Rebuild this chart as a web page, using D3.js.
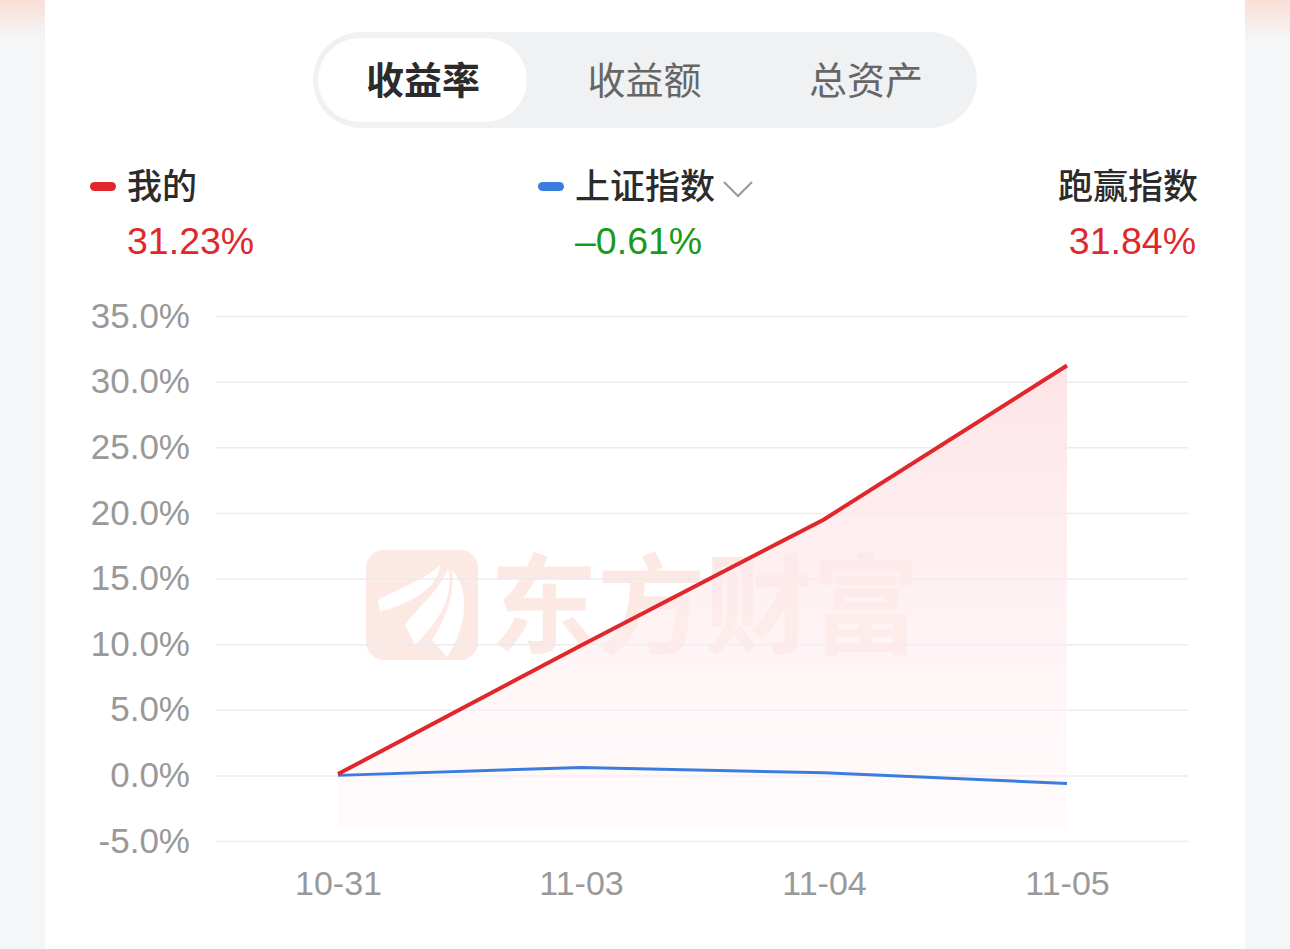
<!DOCTYPE html>
<html>
<head>
<meta charset="utf-8">
<script src="https://cdn.jsdelivr.net/npm/d3@7"></script>
<style>
  html, body { margin: 0; padding: 0; background: #f5f6f8; }
  svg { display: block; overflow: visible; }
</style>
</head>
<body>
<div class="main"></div>
<script>
  //Data
  const dates = ['10-31', '11-03', '11-04', '11-05'];
  const mine = [0.1, 9.9, 19.5, 31.23];
  const index = [0.0, 0.6, 0.2, -0.61];
  const yTicks = [-5, 0, 5, 10, 15, 20, 25, 30, 35];
  const tabs = ['收益率', '收益额', '总资产'];
  const legendNames = ['我的', '上证指数', '跑赢指数'];
  const legendValues = ['31.23%', '–0.61%', '31.84%'];

  //Variables
  const width = 1290,
        height = 949,
        marginLeft = 216,
        lineColors = ['#e0282c', '#3b7ddd', null],
        valueColors = ['#e0282c', '#1a9a1a', '#e0282c'],
        numFont = '"Liberation Sans", "Noto Sans CJK SC", sans-serif',
        cjkFont = '"Noto Sans CJK SC", "Liberation Sans", sans-serif';

  //Create Canvas
  const svg = d3.select('.main')
                .append('svg')
                .attr('width', width)
                .attr('height', height);

  const defs = svg.append('defs');

  const peach = defs.append('linearGradient')
                    .attr('id', 'peach')
                    .attr('x1', 0).attr('y1', 0).attr('x2', 0).attr('y2', 1);
  peach.append('stop').attr('offset', '0%').attr('stop-color', '#f9e0d6');
  peach.append('stop').attr('offset', '100%').attr('stop-color', '#f5f6f8');

  const fillGrad = defs.append('linearGradient')
                       .attr('id', 'fillGrad')
                       .attr('x1', 0).attr('y1', 0).attr('x2', 0).attr('y2', 1);
  fillGrad.append('stop').attr('offset', '0%').attr('stop-color', '#fde1e4').attr('stop-opacity', 0.9);
  fillGrad.append('stop').attr('offset', '100%').attr('stop-color', '#fff5f7').attr('stop-opacity', 0.45);

  //Background
  svg.append('rect').attr('width', width).attr('height', 40).attr('fill', 'url(#peach)');
  svg.append('rect').attr('x', 45).attr('width', 1200).attr('height', height).attr('fill', '#ffffff');

  //Tabs
  svg.append('rect')
     .attr('x', 313).attr('y', 32).attr('width', 664).attr('height', 96)
     .attr('rx', 48).attr('fill', '#f0f1f3');
  svg.append('rect')
     .attr('x', 318).attr('y', 38).attr('width', 209).attr('height', 84)
     .attr('rx', 42).attr('fill', '#ffffff');

  const tabX = d3.scalePoint().domain(tabs).range([423, 866]);
  svg.selectAll('.tab')
     .data(tabs)
     .enter()
     .append('text')
     .attr('class', 'tab')
     .attr('x', d => tabX(d))
     .attr('y', 94)
     .attr('text-anchor', 'middle')
     .style('font-family', cjkFont)
     .style('font-size', '38px')
     .style('font-weight', (d, i) => i === 0 ? 700 : 400)
     .attr('fill', (d, i) => i === 0 ? '#2b2b2b' : '#666666')
     .text(d => d);

  //Legend
  const legendX = [127, 575, 1198];
  legendNames.forEach(function(name, i) {
    const anchor = i === 2 ? 'end' : 'start';
    if (lineColors[i]) {
      svg.append('rect')
         .attr('x', legendX[i] - 37).attr('y', 182)
         .attr('width', 26).attr('height', 9).attr('rx', 4.5)
         .attr('fill', lineColors[i]);
    }
    svg.append('text')
       .attr('x', legendX[i]).attr('y', 199)
       .attr('text-anchor', anchor)
       .style('font-family', cjkFont)
       .style('font-size', '35px')
       .style('font-weight', 500)
       .attr('fill', '#2b2b2b')
       .text(name);
    svg.append('text')
       .attr('x', i === 2 ? legendX[i] - 2 : legendX[i]).attr('y', 254)
       .attr('text-anchor', anchor)
       .style('font-family', numFont)
       .style('font-size', '37.5px')
       .attr('fill', valueColors[i])
       .text(legendValues[i]);
  });
  //Chevron
  svg.append('path')
     .attr('d', 'M724,182 L738,196 L752,182')
     .attr('fill', 'none')
     .attr('stroke', '#999999')
     .attr('stroke-width', 2);

  //Create Margins
  const g = svg.append('g')
               .attr('transform', `translate(${marginLeft}, 0)`);

  //Create Scales
  const yScale = d3.scaleLinear()
                   .domain([-5, 35])
                   .range([841, 316]);

  const xScale = d3.scalePoint()
                   .domain(dates)
                   .range([338 - marginLeft, 1067 - marginLeft]);

  //Watermark
  const wm = g.append('g').attr('opacity', 0.85);
  wm.append('rect')
    .attr('x', 366 - marginLeft).attr('y', 550)
    .attr('width', 112).attr('height', 110).attr('rx', 18)
    .attr('fill', '#fde6df');
  const leaves = [
    'M378,600 C395,590 425,580 440,565 C438,585 420,600 380,612 Z',
    'M405,625 C420,605 440,590 448,568 C455,595 440,620 415,645 Z',
    'M432,640 C445,620 455,595 452,570 C470,590 468,625 447,657 Z'
  ];
  wm.selectAll('.leaf')
    .data(leaves)
    .enter()
    .append('path')
    .attr('class', 'leaf')
    .attr('transform', `translate(${-marginLeft}, 0)`)
    .attr('d', d => d)
    .attr('fill', '#ffffff');
  wm.append('text')
    .attr('x', 490 - marginLeft).attr('y', 645)
    .style('font-family', cjkFont)
    .style('font-size', '108px')
    .style('font-weight', 700)
    .attr('textLength', 430)
    .attr('fill', '#fde6df')
    .text('东方财富');

  //Grid
  g.append('g')
   .call(d3.axisLeft(yScale).tickValues(yTicks).tickSize(-972).tickFormat(''))
   .call(s => s.select('.domain').remove())
   .call(s => s.selectAll('line').attr('stroke', '#e9e9f0').attr('stroke-width', 1.5).attr('opacity', 0.9));

  //Create Axes
  g.append('g')
   .attr('id', 'y-axis')
   .call(d3.axisLeft(yScale).tickValues(yTicks).tickSize(0).tickPadding(26)
           .tickFormat(d => (d < 0 ? '-' : '') + Math.abs(d).toFixed(1) + '%'))
   .call(s => s.select('.domain').remove())
   .call(s => s.selectAll('text')
               .attr('fill', '#999999')
               .style('font-family', numFont)
               .style('font-size', '35px'));

  g.append('g')
   .attr('id', 'x-axis')
   .attr('transform', 'translate(0, 883)')
   .call(d3.axisBottom(xScale).tickSize(0).tickPadding(0))
   .call(s => s.select('.domain').remove())
   .call(s => s.selectAll('text')
               .attr('dy', '0.35em')
               .attr('fill', '#999999')
               .style('font-family', numFont)
               .style('font-size', '34px'));

  //Area
  const area = d3.area()
                 .x((d, i) => xScale(dates[i]))
                 .y0(yScale(-4))
                 .y1(d => yScale(d));
  g.append('path')
   .datum(mine)
   .attr('d', area)
   .attr('fill', 'url(#fillGrad)');

  //Lines
  const line = d3.line()
                 .x((d, i) => xScale(dates[i]))
                 .y(d => yScale(d));

  g.append('path')
   .datum(index)
   .attr('d', line)
   .attr('fill', 'none')
   .attr('stroke', '#3b7ddd')
   .attr('stroke-width', 3);

  g.append('path')
   .datum(mine)
   .attr('d', line)
   .attr('fill', 'none')
   .attr('stroke', '#e0282c')
   .attr('stroke-width', 4);
</script>
</body>
</html>
